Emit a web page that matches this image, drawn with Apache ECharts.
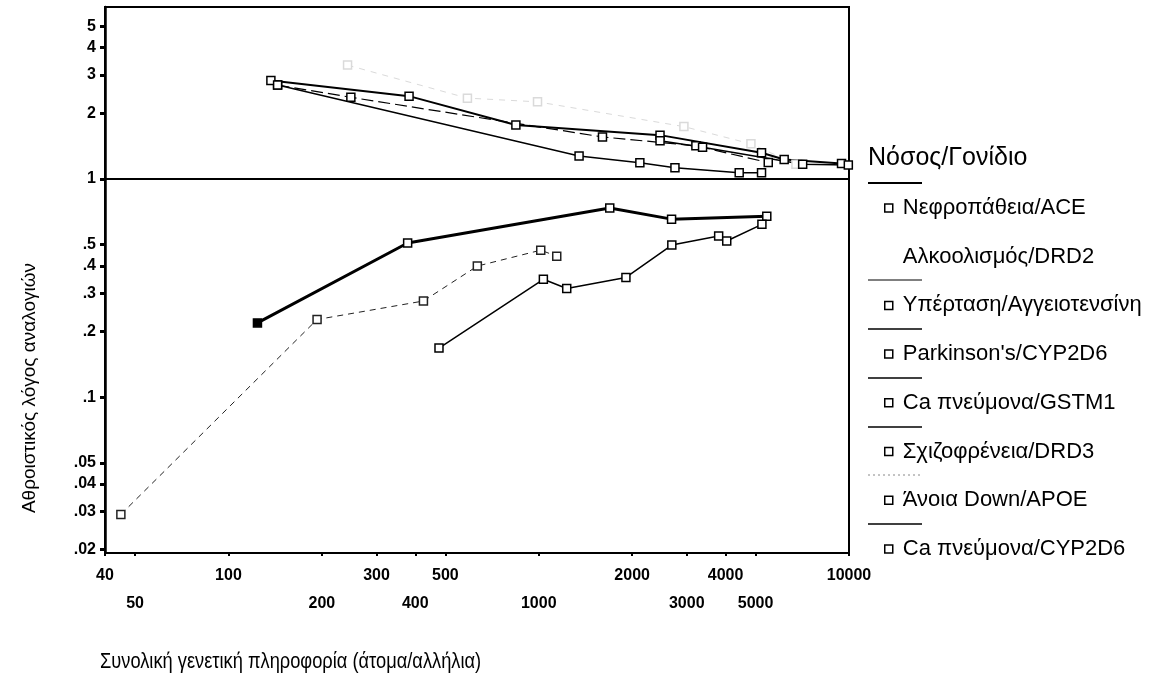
<!DOCTYPE html>
<html>
<head>
<meta charset="utf-8">
<script src="https://cdn.jsdelivr.net/npm/echarts@6/dist/echarts.min.js"></script>
<style>html,body{margin:0;padding:0;background:#fff}#main{width:1165px;height:679px}</style>
</head>
<body>
<div id="main"></div>
<script>
// legend order
var seriesNames = ['Νεφροπάθεια/ACE', 'Αλκοολισμός/DRD2', 'Υπέρταση/Αγγειοτενσίνη', "Parkinson's/CYP2D6",
    'Ca πνεύμονα/GSTM1', 'Σχιζοφρένεια/DRD3', 'Άνοια Down/APOE', 'Ca πνεύμονα/CYP2D6'];

// cumulative odds ratio vs total genetic information
var aceX = [124, 378, 1694, 2680, 5433];
var aceY = [0.219, 0.509, 0.736, 0.655, 0.676];
var drd2X = [242, 589, 991, 2937, 4830, 6745];
var drd2Y = [3.33, 2.35, 2.26, 1.74, 1.45, 1.17];
var angX = [144, 248, 1605, 3210, 5492];
var angY = [2.70, 2.37, 1.56, 1.42, 1.19];
var parkX = [137, 382, 844, 2460, 5225, 6181, 9461];
var parkY = [2.83, 2.40, 1.77, 1.59, 1.32, 1.23, 1.18];
var gstmX = [144, 1349, 2118, 2748, 4427, 5225];
var gstmY = [2.70, 1.275, 1.188, 1.127, 1.069, 1.069];
var drd3X = [2460, 3373, 7090, 9950];
var drd3Y = [1.50, 1.40, 1.17, 1.16];
var apoeX = [45, 193, 425, 634, 1015, 1143];
var apoeY = [0.029, 0.227, 0.276, 0.399, 0.472, 0.443];
var cypX = [477, 1035, 1231, 1910, 2685, 3801, 4036, 5240];
var cypY = [0.168, 0.347, 0.315, 0.354, 0.498, 0.548, 0.520, 0.620];

var xTicks = [40, 50, 100, 200, 300, 400, 500, 1000, 2000, 3000, 4000, 5000, 10000];
var xLowerRow = [50, 200, 400, 1000, 3000, 5000];
var yTicks = [0.02, 0.03, 0.04, 0.05, 0.1, 0.2, 0.3, 0.4, 0.5, 1, 2, 3, 4, 5];

var sans = "'Liberation Sans', Arial, sans-serif";

var myChart = echarts.init(document.getElementById('main'));

function mk(name, xs, ys, width, type, color) {
    var pts = [];
    for (var i = 0; i < xs.length; i++) {
        pts.push([xs[i], ys[i]]);
    }
    return {
        name: name,
        type: 'line',
        data: pts,
        symbol: 'rect',
        symbolSize: 8,
        lineStyle: { color: color, width: width, type: type },
        itemStyle: { color: '#fff', borderColor: color, borderWidth: 1.5 }
    };
}

var series = [
    mk(seriesNames[0], aceX, aceY, 3, 'solid', '#000'),
    mk(seriesNames[1], drd2X, drd2Y, 1, [6, 6], '#dadada'),
    mk(seriesNames[2], angX, angY, 1.2, [12, 5], '#000'),
    mk(seriesNames[3], parkX, parkY, 2, 'solid', '#000'),
    mk(seriesNames[4], gstmX, gstmY, 1.5, 'solid', '#000'),
    mk(seriesNames[5], drd3X, drd3Y, 1.5, 'solid', '#000'),
    mk(seriesNames[6], apoeX, apoeY, 1, [6, 5], '#222'),
    mk(seriesNames[7], cypX, cypY, 1.5, 'solid', '#000')
];
// first ACE point is drawn filled
series[0].data[0] = { value: series[0].data[0], itemStyle: { color: '#000' } };
series[0].markLine = {
    silent: true,
    symbol: 'none',
    label: { show: false },
    lineStyle: { color: '#000', width: 2, type: 'solid' },
    data: [{ yAxis: 1 }]
};

var legendData = seriesNames.map(function (n) {
    if (n === 'Αλκοολισμός/DRD2') {
        return { name: n, itemStyle: { color: 'rgba(0,0,0,0)', borderColor: 'rgba(0,0,0,0)' } };
    }
    return { name: n };
});

// short line samples above legend entries
var legendLines = [];
var lineWidths = [2, 0, 1, 1.5, 1.5, 1.5, 1, 1.5];
for (var k = 0; k < 8; k++) {
    if (k === 1) continue;
    var yy = Math.round(208 + 48.7 * k - 25);
    legendLines.push({
        type: 'line',
        shape: { x1: 868, y1: yy, x2: 922, y2: yy },
        style: { stroke: k === 6 ? '#888' : '#000', lineWidth: lineWidths[k], lineDash: k === 6 ? [2, 3] : null }
    });
}

var option = {
    animation: false,
    backgroundColor: '#fff',
    grid: {
        left: 105, right: 316, top: 7, bottom: 126,
        show: true, borderColor: '#000', borderWidth: 2, backgroundColor: 'transparent'
    },
    legend: {
        orient: 'vertical',
        left: 884,
        top: 196,
        padding: 0,
        icon: 'rect',
        itemWidth: 8,
        itemHeight: 8,
        itemGap: 24.7,
        selectedMode: false,
        itemStyle: { color: '#fff', borderColor: '#000', borderWidth: 1.5 },
        textStyle: { fontSize: 22, fontFamily: sans, color: '#000', lineHeight: 24, padding: [0, 0, 0, 5] },
        data: legendData
    },
    xAxis: {
        type: 'log',
        min: 40,
        max: 10000,
        axisLine: { lineStyle: { color: '#000', width: 2 } },
        axisTick: { customValues: xTicks, length: 3, lineStyle: { color: '#000', width: 2 } },
        axisLabel: {
            customValues: xTicks,
            margin: 9,
            color: '#000',
            fontSize: 16,
            fontWeight: 'bold',
            fontFamily: sans,
            lineHeight: 28,
            formatter: function (v) {
                var r = Math.round(v);
                return xLowerRow.indexOf(r) >= 0 ? '\n' + r : String(r);
            }
        },
        splitLine: { show: false }
    },
    yAxis: {
        type: 'log',
        min: 0.0193,
        max: 6.15,
        axisLine: { lineStyle: { color: '#000', width: 2.5 } },
        axisTick: { customValues: yTicks, length: 5, lineStyle: { color: '#000', width: 3 } },
        axisLabel: {
            customValues: yTicks,
            margin: 9,
            color: '#000',
            fontSize: 16,
            fontWeight: 'bold',
            fontFamily: sans,
            formatter: function (v) {
                var s = String(+Number(v).toPrecision(3));
                return s.replace(/^0\./, '.');
            }
        },
        splitLine: { show: false }
    },
    graphic: [
        {
            type: 'text', x: 30, y: 388, rotation: Math.PI / 2,
            style: { text: 'Αθροιστικός λόγος αναλογιών', fontSize: 19, fontFamily: sans, fill: '#000', align: 'center', verticalAlign: 'middle' }
        },
        {
            type: 'text', x: 100, y: 662, scaleX: 0.83,
            style: { text: 'Συνολική γενετική πληροφορία (άτομα/αλλήλια)', fontSize: 22, fontFamily: sans, fill: '#000', verticalAlign: 'middle' }
        },
        {
            type: 'text', x: 868, y: 158,
            style: { text: 'Νόσος/Γονίδιο', fontSize: 25, fontFamily: sans, fill: '#000', verticalAlign: 'middle' }
        }
    ].concat(legendLines),
    series: series
};

myChart.setOption(option);
</script>
</body>
</html>
